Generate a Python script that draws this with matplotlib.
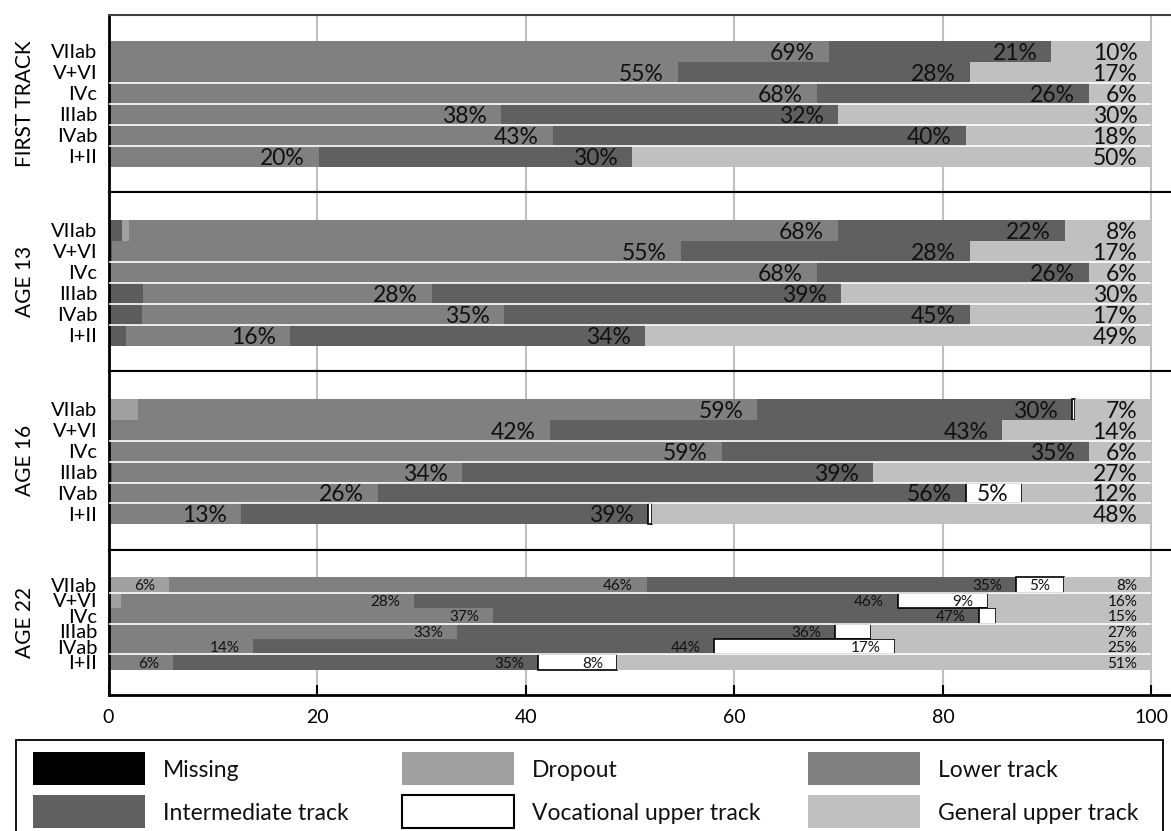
import matplotlib
matplotlib.use('Agg')
import matplotlib.pyplot as plt
from matplotlib.patches import Rectangle
import numpy as np

plt.rcParams['font.family'] = ['Lato', 'DejaVu Sans']

# data (share of each class in %)
rows = ['VIIab', 'V+VI', 'IVc', 'IIIab', 'IVab', 'I+II']
panels = ['FIRST TRACK', 'AGE 13', 'AGE 16', 'AGE 22']
series = ['Missing', 'Dropout', 'Lower track', 'Intermediate track',
          'Vocational upper track', 'General upper track']

# columns: missing, dropout, lower, intermediate, vocational, general
first_track = [[0, 0, 69.1, 21.3, 0, 9.6],
               [0, 0, 54.6, 28.0, 0, 17.4],
               [0, 0, 67.9, 26.1, 0, 6.0],
               [0, 0, 37.6, 32.3, 0, 30.1],
               [0, 0, 42.6, 39.6, 0, 17.8],
               [0, 0, 20.2, 30.0, 0, 49.8]]
age_13 = [[1.3, 0.7, 67.9, 21.8, 0, 8.3],
          [0.3, 0, 54.6, 27.7, 0, 17.4],
          [0, 0, 67.9, 26.1, 0, 6.0],
          [3.3, 0, 27.7, 39.2, 0, 29.8],
          [3.2, 0, 34.7, 44.7, 0, 17.4],
          [1.7, 0, 15.7, 34.0, 0, 48.6]]
age_16 = [[0, 2.8, 59.4, 30.2, 0.25, 7.35],
          [0, 0, 42.3, 43.4, 0, 14.3],
          [0, 0, 58.8, 35.2, 0, 6.0],
          [0.3, 0, 33.6, 39.4, 0, 26.7],
          [0, 0, 25.8, 56.4, 5.4, 12.4],
          [0, 0, 12.7, 39.0, 0.4, 47.9]]
age_22 = [[0, 5.8, 45.8, 35.4, 4.6, 8.4],
          [0, 1.2, 28.1, 46.4, 8.6, 15.7],
          [0, 0, 36.9, 46.6, 1.6, 14.9],
          [0, 0, 33.4, 36.3, 3.4, 26.9],
          [0, 0, 13.9, 44.2, 17.3, 24.6],
          [0, 0, 6.2, 35.0, 7.6, 51.2]]
panel_data = [first_track, age_13, age_16, age_22]

bar_colors = ['#5c5c5c', '#a0a0a0', '#808080', '#606060', 'white', '#c0c0c0']
legend_colors = ['black', '#a0a0a0', '#808080', '#606060', 'white', '#c0c0c0']

# layout in pixels: axes top, bars top, bars bottom, axes bottom
W, H = 1171, 831
layout = [(15, 41, 166.7, 192),
          (192, 220, 345.7, 371),
          (371, 399, 524.3, 550),
          (550, 577.3, 669.7, 695)]
x0_px = 108.5
unit_px = 10.43
xmax = 105

fig = plt.figure(figsize=(W / 100, H / 100), dpi=100)

for i, (name, data) in enumerate(zip(panels, panel_data)):
    top, btop, bbot, bottom = layout[i]
    ax = fig.add_axes([x0_px / W, 1 - bottom / H, xmax * unit_px / W, (bottom - top) / H])
    data = np.array(data, dtype=float)
    ypos = np.arange(len(rows))
    row_h = (bbot - btop) / len(rows)
    last = i == len(panels) - 1
    fs = 11 if last else 16.5

    lefts = np.zeros(len(rows))
    for j, s in enumerate(series):
        vals = data[:, j]
        if s == 'Vocational upper track':
            ec = ['black' if v > 0 else 'none' for v in vals]
        else:
            ec = 'none'
        ax.barh(ypos, vals, left=lefts, height=1.0, color=bar_colors[j],
                edgecolor=ec, linewidth=1.2, zorder=2)
        for y, v, l in zip(ypos, vals, lefts):
            if v >= 4.5:
                ax.text(l + v - 1.35, y, f'{v:.0f}%', ha='right', va='center_baseline',
                        fontsize=fs, color='#111111', zorder=5)
        lefts = lefts + vals

    # thin white lines between some of the rows
    seps = [0.5, 2.5, 4.5] if last else [1.5, 2.5, 3.5, 4.5]
    ax.hlines(seps, 0, 100, colors='white', linewidth=1.2, zorder=3)

    ax.set_xlim(0, xmax)
    ax.set_ylim(len(rows) - 0.5 + (bottom - bbot) / row_h, -0.5 - (btop - top) / row_h)
    ax.set_xticks([0, 20, 40, 60, 80, 100])
    ax.xaxis.grid(True, color='#c0c0c0', linewidth=1.5)
    ax.set_axisbelow(True)

    ax.set_yticks(ypos, rows)
    ax.tick_params(axis='y', length=0, pad=8, labelsize=14.5)
    if last:
        ax.tick_params(axis='x', direction='in', length=7, width=1.5, pad=10, labelsize=14)
    else:
        ax.tick_params(axis='x', length=0, labelbottom=False)

    ax.spines['right'].set_visible(False)
    ax.spines['left'].set_linewidth(2)
    ax.spines['top'].set_linewidth(1.5)
    ax.spines['bottom'].set_linewidth(2 if last else 1.5)
    if i == 0:
        ax.spines['top'].set_color('#404040')

    ax.set_ylabel(name, fontsize=15)
    ax.yaxis.set_label_coords(-0.067, 0.5)

# legend box, drawn by hand in pixel coordinates (3 columns, 2 rows)
lax = fig.add_axes([0, 0, 1, 1], zorder=10)
lax.set_xlim(0, W)
lax.set_ylim(H, 0)
lax.axis('off')
lax.add_patch(Rectangle((16, 740), 1163 - 16, 100, facecolor='white',
                        edgecolor='black', linewidth=1.3))
col_x = [33, 402, 808]
row_y = [752, 795]
for k, (s, c) in enumerate(zip(series, legend_colors)):
    x = col_x[k % 3]
    y = row_y[k // 3]
    lax.add_patch(Rectangle((x, y), 112, 33, facecolor=c,
                            edgecolor='black' if c == 'white' else 'none', linewidth=1.5))
    lax.text(x + 130, y + 16.5, s, ha='left', va='center_baseline', fontsize=16.5, color='#111111')

fig.savefig('out.png', dpi=100)
